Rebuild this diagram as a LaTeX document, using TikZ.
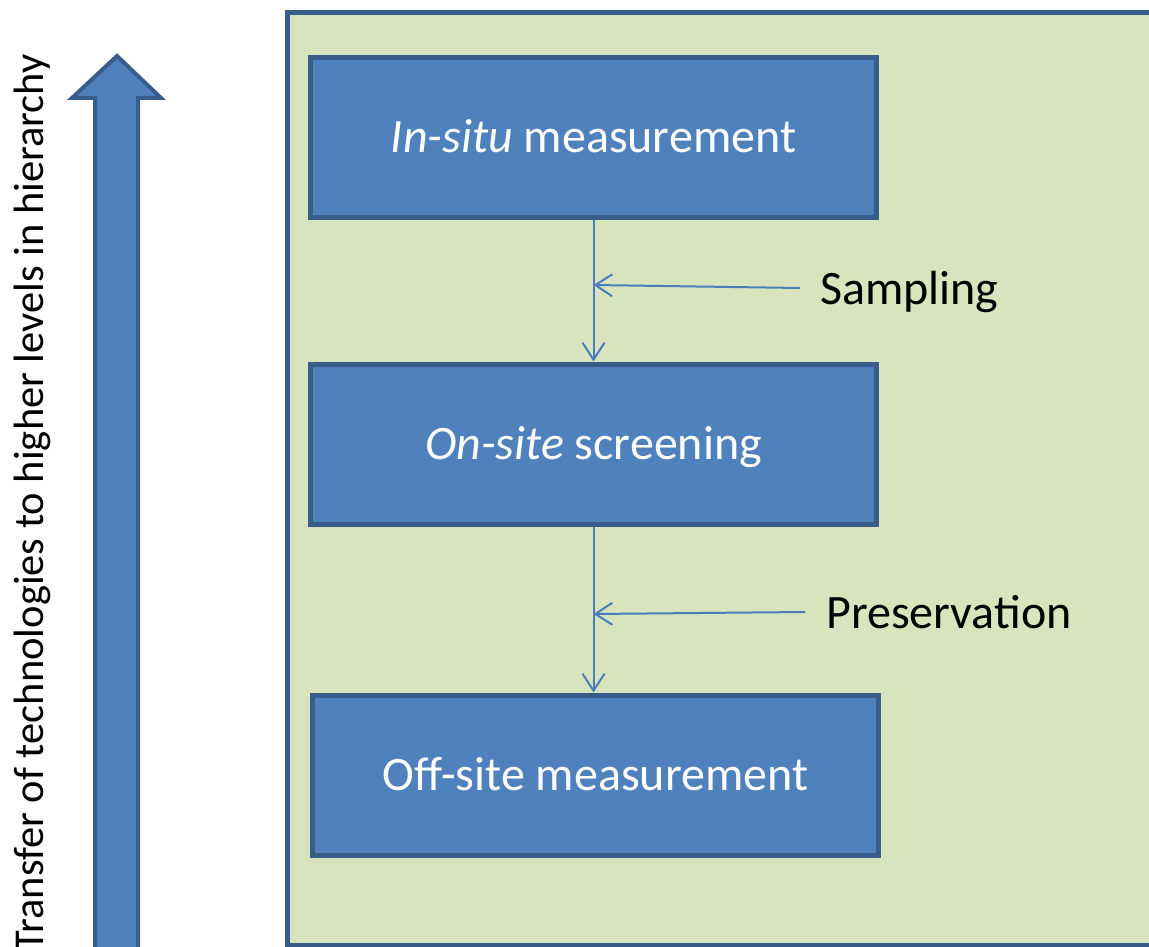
\documentclass[tikz,border=0pt]{standalone}
\usepackage{fontspec}
\setmainfont{Carlito}
\usetikzlibrary{arrows.meta}
\definecolor{boxblue}{HTML}{4F81BD}
\definecolor{edgeblue}{HTML}{385D8A}
\definecolor{panelgreen}{HTML}{D7E4BD}
\definecolor{linkblue}{HTML}{4A7EBB}

\begin{document}
\begin{tikzpicture}[x=1pt,y=-1pt,
  stage/.style={draw=edgeblue, line width=5pt, fill=boxblue, text=white,
    minimum width=566pt, minimum height=160pt, inner sep=0pt,
    text height=31pt, text depth=0pt, font=\fontsize{48}{58}\selectfont},
  link/.style={draw=linkblue, line width=2pt,
    -{Straight Barb[length=17pt,width=22pt,line width=2pt]}},
  tag/.style={font=\fontsize{48}{58}\selectfont, anchor=base west, inner sep=0pt}]

\useasboundingbox (0,0) rectangle (1149,947);
\fill[white] (0,0) rectangle (1149,947);

% green panel holding the three stages
\draw[draw=edgeblue, line width=4.5pt, fill=panelgreen] (287.5,12.5) rectangle (1170,945);

% upward hierarchy arrow
\draw[draw=edgeblue, line width=4pt, fill=boxblue, line join=miter]
  (95,970) -- (95,98) -- (72,98) -- (117,56) -- (161,98) -- (138,98) -- (138,970) -- cycle;

\node[rotate=90, anchor=base east, inner sep=0pt, font=\fontsize{42.5}{51}\selectfont]
  (axis) at (43,54) {Transfer of technologies to higher levels in hierarchy};

% stages
\node[stage] (insitu)  at (593.5,137.5) {\textit{In-situ} measurement};
\node[stage] (onsite)  at (593.5,444)   {\textit{On-site} screening};
\node[stage] (offsite) at (595.5,775)   {Off-site measurement};

% flow between stages
\draw[link] (insitu.south) -- (onsite.north);
\draw[link] (onsite.south) -- (onsite.south |- offsite.north);

% side inputs
\coordinate (sampfrom) at (800,288);
\coordinate (sampto)   at (593.5,285);
\coordinate (presfrom) at (805,612);
\coordinate (presto)   at (593.5,614);
\draw[link] (sampfrom) -- (sampto);
\draw[link] (presfrom) -- (presto);

\node[tag] (sampling) at (820,304) {Sampling};
\node[tag] (preserve) at (826,628) {Preservation};
\end{tikzpicture}
\end{document}
